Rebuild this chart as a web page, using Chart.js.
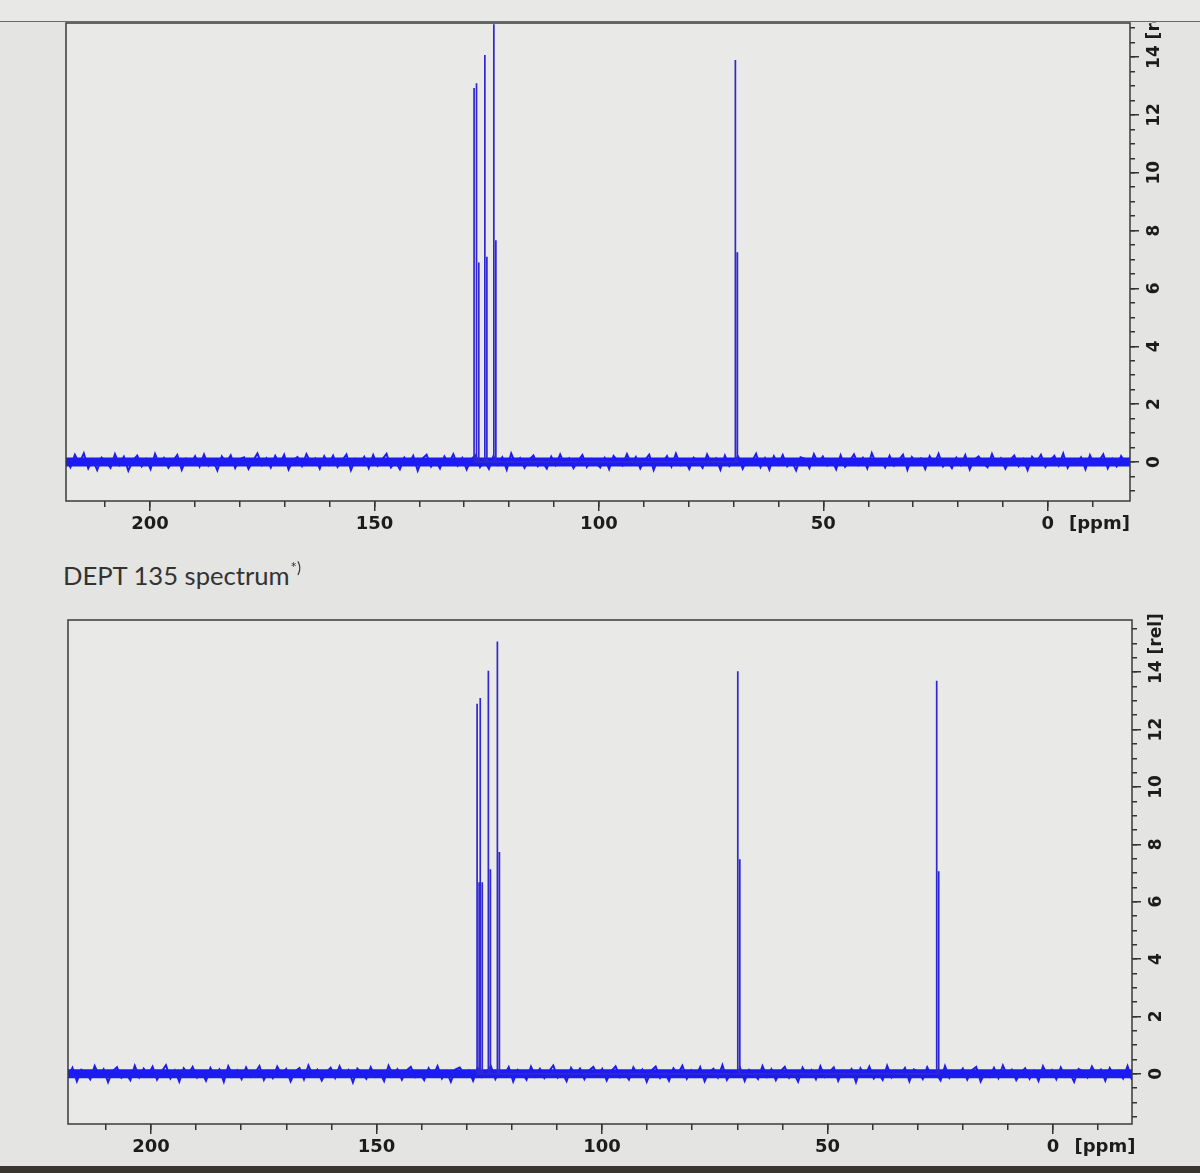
<!DOCTYPE html>
<html>
<head>
<meta charset="utf-8">
<script src="https://cdn.jsdelivr.net/npm/chart.js@4.4.1/dist/chart.umd.min.js"></script>
<style>
  body { margin: 0; background: #e4e4e2; width: 1200px; height: 1173px; overflow: hidden; position: relative; }
  .box { position: absolute; left: 0; width: 1200px; }
  #head { position: absolute; left: 0; top: 0; width: 1200px; height: 21px; background: #e8e8e6; border-bottom: 1.5px solid #6a6a6a; }
  #topBox { top: 22px; height: 538px; }
  #botBox { top: 600px; height: 573px; }
  #title { position: absolute; left: 63px; top: 560px; font: 25.6px Lato; color: #333; white-space: nowrap; }
  #title sup { font-size: 15px; position: relative; top: -2px; margin-left: 1px; }
  #desk { position: absolute; left: 0; top: 1166px; width: 1200px; height: 7px; background: #3b352f; }
</style>
</head>
<body>
<div id="head"></div>
<div class="box" id="topBox"><canvas id="topChart"></canvas></div>
<div id="title">DEPT 135 spectrum<sup>*)</sup></div>
<div class="box" id="botBox"><canvas id="botChart"></canvas></div>
<div id="desk"></div>
<script>
// ticks
var ppmTicks = [200, 150, 100, 50, 0, -11.5];
var ppmLabels = ['200', '150', '100', '50', '0', '[ppm]'];
var relTicks = [0, 2, 4, 6, 8, 10, 12, 14];
var relLabels = ['0', '2', '4', '6', '8', '10', '12', '14'];

// 13C spectrum (top)
var peakPpmTop = [127.8, 127.2, 125.4, 123.4, 69.6];
var peakHeightTop = [12.93, 13.1, 14.07, 15.14, 13.9];
var peakShoulderTop = [6.9, 6.9, 7.1, 7.67, 7.25];

// DEPT 135 (bottom)
var peakPpmBot = [127.7, 127.0, 125.2, 123.2, 69.9, 25.8];
var peakHeightBot = [12.9, 13.1, 14.05, 15.07, 14.03, 13.7];
var peakShoulderBot = [6.68, 6.68, 7.13, 7.73, 7.48, 7.06];

// baseline noise (estimated)
var noiseTop = [0.12,-0.18,0.25,-0.05,0.3,-0.22,0.08,-0.28,0.15,0.02,-0.2,0.27,-0.1,0.18,-0.3,0.05,0.22,-0.15,0.1,-0.25,
  0.28,-0.08,0.14,-0.2,0.03,0.24,-0.27,0.11,-0.06,0.2,-0.16,0.26,-0.12,0.07,-0.29,0.19,-0.02,0.23,-0.21,0.09,
  0.16,-0.24,0.04,0.29,-0.11,0.13,-0.19,0.21,-0.07,0.25,-0.26,0.06,0.17,-0.14,0.27,-0.03,0.12,-0.23,0.2,-0.09,
  0.22,-0.17,0.05,0.26,-0.28,0.1,-0.04,0.18,-0.21,0.24,-0.13,0.08,0.28,-0.19,0.02,-0.25,0.15,-0.08,0.21,-0.3,
  0.11,0.25,-0.16,0.06,-0.22,0.19,-0.05,0.27,-0.12,0.14,-0.26,0.09,0.23,-0.18,0.03,-0.24,0.2,-0.1,0.16,-0.27,
  0.29,-0.06,0.13,-0.2,0.07,0.22,-0.15,0.01,-0.23,0.18,-0.11,0.26,-0.09,0.12,-0.21,0.04,0.24,-0.17,0.1,-0.02,
  -0.19,0.14,-0.25,0.21,0.03,-0.12,0.27,-0.08,0.17,-0.22,0.06,0.25,-0.28,0.1,-0.03,0.2,-0.16,0.29,-0.11,0.08,
  -0.24,0.15,0.01,-0.2,0.26,-0.07,0.12,-0.27,0.22,-0.14,0.05,0.18,-0.23,0.09,-0.01,0.28,-0.18,0.13,-0.26,0.2,
  -0.09,0.24,-0.15,0.04,-0.29,0.16,0.11,-0.21,0.27,-0.05,0.19,-0.12,0.07,-0.25,0.23,-0.17,0.02,0.26,-0.1,0.14,
  -0.22,0.3,-0.06,0.1,-0.19,0.21,-0.13,0.05,0.25,-0.27,0.17,-0.02,0.12,-0.24,0.2,-0.08,0.28,-0.16,0.03,-0.21,
  0.15,-0.11,0.24,-0.26,0.08,0.19,-0.04,-0.18,0.27,-0.09,0.13,-0.23,0.06,0.22,-0.14,0.1,-0.28,0.18,-0.01,0.25,
  -0.17,0.04,0.21,-0.12,0.29,-0.2,0.09,-0.06,0.16,-0.25,0.23,-0.1,0.02,0.26,-0.22,0.11,-0.15,0.2,-0.03,0.14];
var noiseBot = [-0.1,0.21,-0.26,0.14,0.04,-0.19,0.27,-0.07,0.16,-0.29,0.09,0.23,-0.14,0.02,-0.22,0.28,-0.12,0.18,-0.04,0.25,
  -0.2,0.07,0.3,-0.16,0.11,-0.27,0.19,-0.01,0.24,-0.13,0.06,-0.24,0.2,-0.09,0.15,-0.28,0.26,-0.05,0.12,-0.18,
  0.22,-0.11,0.03,0.27,-0.21,0.1,-0.15,0.25,-0.03,0.17,-0.26,0.08,0.2,-0.19,0.29,-0.06,0.14,-0.23,0.05,0.21,
  -0.14,0.26,-0.08,0.13,-0.3,0.18,0.02,-0.17,0.23,-0.1,0.07,-0.25,0.28,-0.04,0.16,-0.2,0.11,0.24,-0.12,0.01,
  -0.22,0.19,-0.07,0.27,-0.16,0.09,-0.28,0.15,0.22,-0.02,0.12,-0.24,0.2,-0.11,0.05,0.26,-0.18,0.1,-0.06,0.23,
  -0.27,0.14,0.03,-0.21,0.25,-0.09,0.17,-0.15,0.08,0.29,-0.13,0.04,-0.26,0.21,-0.05,0.18,-0.19,0.11,0.24,-0.08,
  0.17,-0.23,0.09,0.26,-0.12,0.02,-0.2,0.22,-0.06,0.15,-0.28,0.1,0.25,-0.15,0.05,-0.24,0.19,-0.01,0.28,-0.17,
  0.12,-0.09,0.23,-0.26,0.07,0.18,-0.13,0.3,-0.21,0.04,-0.07,0.2,-0.25,0.14,0.01,-0.18,0.27,-0.1,0.16,-0.22,
  0.08,0.24,-0.14,0.03,-0.27,0.21,-0.05,0.13,-0.19,0.26,-0.11,0.06,0.22,-0.24,0.1,-0.02,0.17,-0.29,0.19,-0.08,
  0.25,-0.16,0.04,-0.21,0.28,-0.12,0.11,-0.03,0.2,-0.26,0.15,0.07,-0.18,0.23,-0.09,0.01,-0.23,0.27,-0.14,0.09,
  -0.04,0.18,-0.2,0.12,0.24,-0.27,0.06,-0.11,0.21,-0.15,0.29,-0.07,0.14,-0.22,0.03,0.19,-0.17,0.1,-0.25,0.26,
  -0.06,0.13,-0.19,0.22,-0.1,0.05,-0.28,0.17,0.08,-0.13,0.25,-0.02,0.15,-0.24,0.2,-0.08,0.11,-0.16,0.27,-0.21];

// each peak: tall line plus the half-height line right beside it
function peakPoints(ppm, h, shoulder) {
  var pts = [];
  ppm.forEach(function (p, i) {
    pts.push({ x: p, y: 0 }, { x: p, y: h[i] }, { x: p, y: 0 },
             { x: p - 0.45, y: 0 }, { x: p - 0.45, y: shoulder[i] }, { x: p - 0.45, y: 0 });
  });
  return pts;
}

function noisePoints(noise, xmin, xmax) {
  var n = noise.length;
  return noise.map(function (v, i) {
    return { x: xmax - i * (xmax - xmin) / (n - 1), y: v };
  });
}

var framePlugin = {
  id: 'frame',
  beforeDraw: function (chart) {
    var a = chart.chartArea, c = chart.ctx;
    c.save();
    c.fillStyle = '#e9e9e7';
    c.fillRect(a.left, a.top, a.right - a.left, a.bottom - a.top);
    c.restore();
  },
  afterDraw: function (chart) {
    var a = chart.chartArea, c = chart.ctx, y = chart.scales.y;
    c.save();
    c.strokeStyle = '#3a3a3a';
    c.lineWidth = 1.5;
    c.strokeRect(a.left, a.top, a.right - a.left, a.bottom - a.top);
    // rotated labels of the right axis
    c.fillStyle = '#1c1c1c';
    c.font = 'bold 17px "DejaVu Sans"';
    c.textBaseline = 'middle';
    relTicks.forEach(function (v, i) {
      var py = y.getPixelForValue(v);
      c.save();
      c.translate(a.right + 25, py);
      c.rotate(-Math.PI / 2);
      c.textAlign = 'center';
      c.fillText(relLabels[i], 0, 0);
      if (i === relTicks.length - 1) {
        c.textAlign = 'left';
        c.fillText(' [rel]', c.measureText(relLabels[i]).width / 2, 0);
      }
      c.restore();
    });
    c.restore();
  }
};

function makeChart(id, cfg) {
  var ctx = document.getElementById(id).getContext('2d');
  return new Chart(ctx, {
    type: 'line',
    data: {
      datasets: [
        { data: peakPoints(cfg.ppm, cfg.heights, cfg.shoulder), borderColor: '#2f28d2', borderWidth: 1.7, pointRadius: 0, tension: 0 },
        { data: noisePoints(cfg.noise, cfg.xmin, cfg.xmax), borderColor: '#1c1cf2', borderWidth: 2, pointRadius: 0, tension: 0 },
        { data: [{ x: cfg.xmin, y: 0 }, { x: cfg.xmax, y: 0 }], borderColor: '#1c1cf2', borderWidth: 9, pointRadius: 0 }
      ]
    },
    options: {
      responsive: true,
      maintainAspectRatio: false,
      animation: false,
      layout: { padding: { left: cfg.left, top: cfg.top, right: 0, bottom: 0 } },
      plugins: { legend: { display: false }, tooltip: { enabled: false } },
      scales: {
        x: {
          type: 'linear', reverse: true, min: cfg.xmin, max: cfg.xmax, position: 'bottom', weight: 1,
          afterBuildTicks: function (s) { s.ticks = ppmTicks.map(function (v) { return { value: v }; }); },
          afterFit: function (s) { s.height = cfg.xH; },
          ticks: {
            callback: function (v, i) { return ppmLabels[i]; },
            autoSkip: false, maxRotation: 0, minRotation: 0, padding: 3, color: '#1c1c1c',
            font: { size: 18, family: 'DejaVu Sans', weight: 'bold' }
          },
          grid: {
            drawOnChartArea: false, tickLength: 10, lineWidth: 1.5,
            color: function (c) { return c.tick && c.tick.value === -11.5 ? 'rgba(0,0,0,0)' : '#333'; }
          },
          border: { display: false }
        },
        xMinor: {
          type: 'linear', reverse: true, min: cfg.xmin, max: cfg.xmax, position: 'bottom', weight: 0,
          afterFit: function (s) { s.height = 0; },
          ticks: { display: false, stepSize: 10, includeBounds: false },
          grid: { drawOnChartArea: false, tickLength: 6, lineWidth: 1.5, color: '#333' },
          border: { display: false }
        },
        y: {
          position: 'right', min: cfg.ymin, max: cfg.ymax, weight: 1,
          afterBuildTicks: function (s) { s.ticks = relTicks.map(function (v) { return { value: v }; }); },
          afterFit: function (s) { s.width = cfg.yW; },
          ticks: { display: false },
          grid: { drawOnChartArea: false, tickLength: 9, lineWidth: 1.5, color: '#333' },
          border: { display: false }
        },
        yMinor: {
          position: 'right', min: cfg.ymin, max: cfg.ymax, weight: 0,
          afterFit: function (s) { s.width = 0; },
          ticks: { display: false, stepSize: 0.5, includeBounds: false },
          grid: { drawOnChartArea: false, tickLength: 5, lineWidth: 1.5, color: '#333' },
          border: { display: false }
        }
      }
    },
    plugins: [framePlugin]
  });
}

makeChart('topChart', {
  ppm: peakPpmTop, heights: peakHeightTop, shoulder: peakShoulderTop, noise: noiseTop,
  xmin: -18.3, xmax: 218.7, ymin: -1.35, ymax: 15.18,
  left: 66, top: 1, xH: 59, yW: 70
});

makeChart('botChart', {
  ppm: peakPpmBot, heights: peakHeightBot, shoulder: peakShoulderBot, noise: noiseBot,
  xmin: -17.5, xmax: 218.4, ymin: -1.75, ymax: 15.82,
  left: 68, top: 20, xH: 49, yW: 68
});
</script>
</body>
</html>
